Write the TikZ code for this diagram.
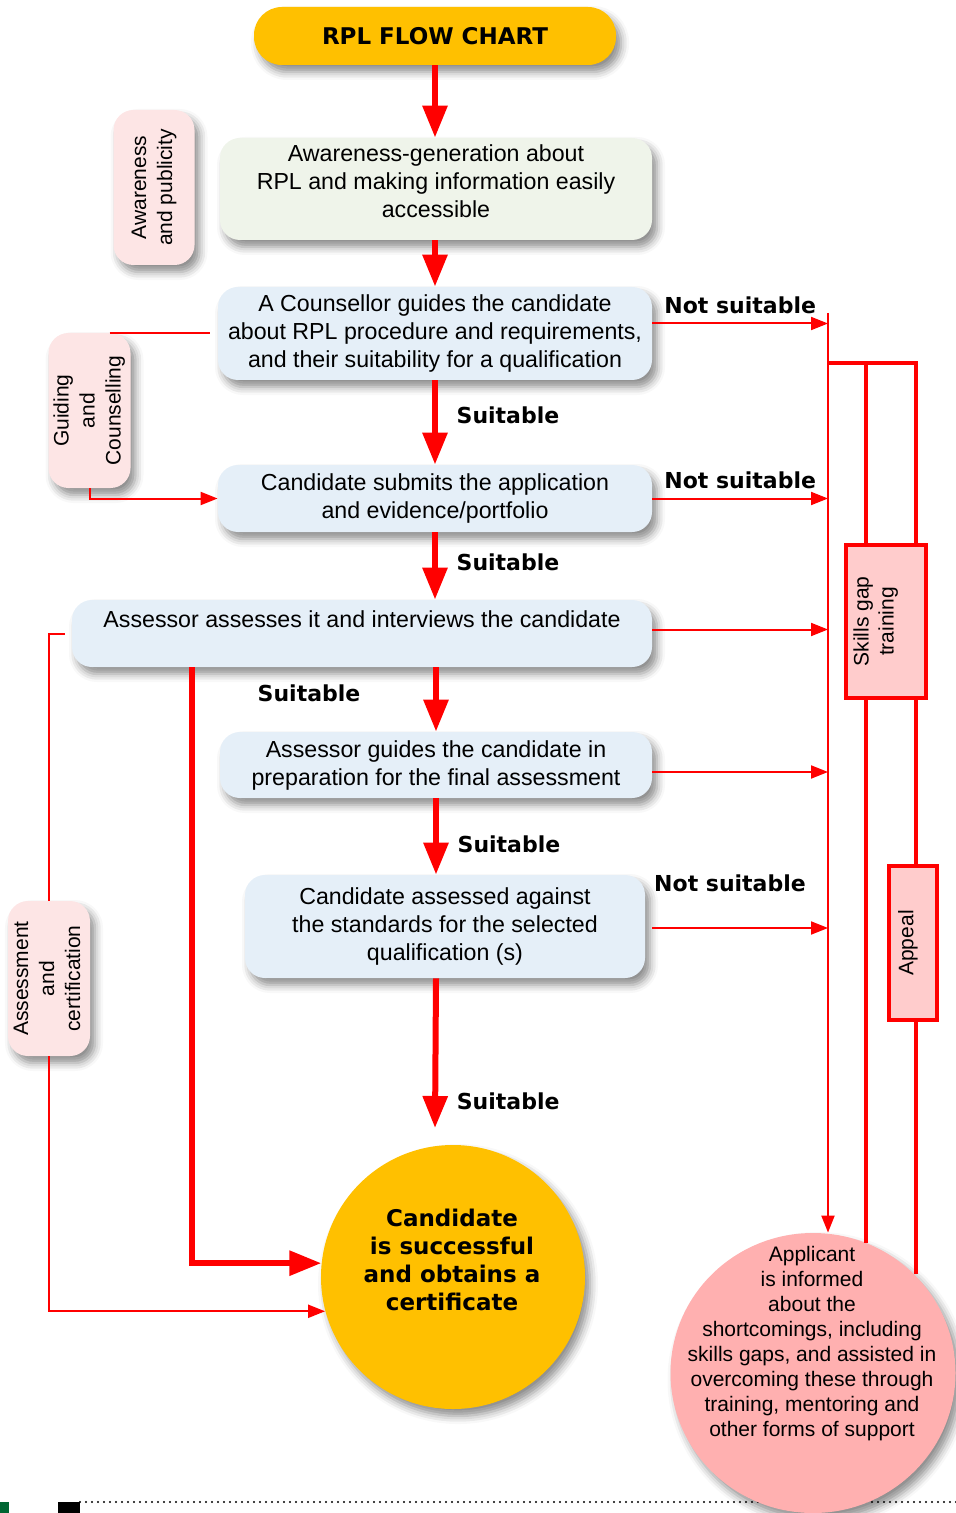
\documentclass[tikz,border=0pt]{standalone}
\usepackage{fontspec}
\usepackage{graphicx}
\setmainfont{Liberation Sans}
\newfontfamily\heavyfont{DejaVu Sans}
\usepackage{tikz}
\usetikzlibrary{shapes.geometric,arrows.meta,positioning,calc,shadows.blur}
\definecolor{rplGold}{RGB}{255,192,0}
\definecolor{rplRed}{RGB}{255,0,0}
\definecolor{rplBlue}{RGB}{229,239,248}
\definecolor{rplGreen}{RGB}{239,244,234}
\definecolor{rplPink}{RGB}{253,229,229}
\definecolor{rplRose}{RGB}{255,204,204}
\definecolor{rplSalmon}{RGB}{255,176,176}
\definecolor{rplDark}{RGB}{0,102,51}

\begin{document}
\begin{tikzpicture}[
    x=0.5pt, y=-0.5pt,
    soft/.style={blur shadow={shadow xshift=2.5pt, shadow yshift=-3.5pt, shadow blur radius=4pt, shadow opacity=45}},
    box/.style={rectangle, rounded corners=10pt, fill=rplBlue, align=center, inner sep=2pt, soft,
                font=\fontsize{11.6}{14}\selectfont},
    side/.style={rectangle, rounded corners=10pt, fill=rplPink, minimum width=40.5pt, minimum height=77.5pt,
                 inner sep=1pt, soft, font=\fontsize{10.5}{13}\selectfont},
    redbox/.style={rectangle, draw=rplRed, line width=2pt, fill=rplRose, inner sep=1pt,
                   font=\fontsize{10.5}{12.5}\selectfont},
    tag/.style={text=black, font=\heavyfont\bfseries\fontsize{11}{13}\selectfont},
    bigarrow/.style={-{Triangle[length=16pt,width=12pt]}, line width=3pt, rplRed},
    thinarrow/.style={-{Triangle[length=8.5pt,width=6.5pt]}, line width=1pt, rplRed},
    redthin/.style={line width=1pt, rplRed},
    redthick/.style={line width=2pt, rplRed}
]
    \useasboundingbox (0,0) rectangle (956,1513);

    % main column
    \node[box, fill=rplGold, rounded corners=14pt, minimum width=181pt, minimum height=29pt,
          font=\heavyfont\bfseries\fontsize{11.5}{14}\selectfont] (title) at (435,36) {RPL FLOW CHART};
    \node[box, fill=rplGreen, minimum width=216pt, minimum height=51pt] (aware) at (436,189)
        {Awareness-generation about\\RPL and making information easily\\accessible\\[-6pt]\mbox{}};
    \node[box, minimum width=217pt, minimum height=46.5pt] (counsel) at (435,333.5)
        {A Counsellor guides the candidate\\about RPL procedure and requirements,\\and their suitability for a qualification};
    \node[box, minimum width=217pt, minimum height=33.5pt] (submit) at (435,498.5)
        {Candidate submits the application\\and evidence/portfolio};
    \node[box, minimum width=290pt, minimum height=33.5pt] (interview) at (362,633.5)
        {Assessor assesses it and interviews the candidate\\ \mbox{}};
    \node[box, minimum width=216pt, minimum height=33pt] (prepare) at (436,765)
        {Assessor guides the candidate in\\preparation for the final assessment};
    \node[box, minimum width=200pt, minimum height=51.5pt] (final) at (445,926.5)
        {Candidate assessed against\\the standards for the selected\\qualification (s)};
    \node[circle, fill=rplGold, minimum size=132pt, inner sep=0pt, soft] (success) at (453,1277) {};
    \node[tag, font=\heavyfont\bfseries\fontsize{11.5}{14}\selectfont, align=center] (successtxt) at (452,1260)
        {Candidate\\is successful\\and obtains a\\certificate};

    % side labels
    \node[side] (publicity) at (154,187.5)
        {\rotatebox{90}{\begin{tabular}{@{}c@{}}Awareness\\and publicity\end{tabular}}};
    \node[side] (guide) at (89.5,410.5)
        {\rotatebox{90}{\begin{tabular}{@{}c@{}}Guiding\\and\\Counselling\end{tabular}}};
    \node[side] (assess) at (49,978.5)
        {\rotatebox{90}{\begin{tabular}{@{}c@{}}Assessment\\and\\certification\end{tabular}}};

    % right hand loop
    \node[redbox, minimum width=40pt, minimum height=76.5pt] (skills) at (886,621.5)
        {\rotatebox{90}{\begin{tabular}{@{}c@{}}Skills gap\\training\end{tabular}}\hspace*{10pt}};
    \node[redbox, minimum width=24pt, minimum height=77pt] (appeal) at (913,943)
        {\rotatebox{90}{Appeal}\hspace*{5pt}};

    \draw[line width=1.2pt, dash pattern=on 0pt off 3pt, line cap=round] (80,1502) -- (956,1502);
    \fill[black] (58,1502) rectangle (80,1513);
    \fill[rplDark] (0,1502) rectangle (9,1513);

    \node[ellipse, fill=rplSalmon, minimum width=142.5pt, minimum height=140pt, inner sep=0pt, soft] (applicant) at (813,1373) {};
    \node[align=center, font=\fontsize{10.5}{12.5}\selectfont] (applicanttxt) at (812,1344)
        {Applicant\\is informed\\about the\\shortcomings, including\\skills gaps, and assisted in\\overcoming these through\\training, mentoring and\\other forms of support};

    \coordinate (vtop) at (828,313);
    \coordinate (loopL) at (866,363);
    \coordinate (loopR) at (916,363);
    \coordinate (sucin) at (435,1128);

    % suitable path
    \draw[bigarrow] (title) -- (aware.north -| title);
    \draw[bigarrow] (aware.south -| title) -- (counsel);
    \draw[bigarrow] (counsel) -- node[tag, right=6pt, pos=0.41] {Suitable} (submit);
    \draw[bigarrow] (submit) -- node[tag, right=6pt, pos=0.44] {Suitable} (interview.north -| submit);
    \draw[bigarrow] (interview.south -| prepare) -- node[tag, left=33pt, pos=0.4] {Suitable} (prepare);
    \draw[bigarrow] (prepare) -- node[tag, right=6pt, pos=0.6] {Suitable} (final.north -| prepare);
    \draw[bigarrow] (final.south -| prepare) -- node[tag, right=6pt, pos=0.82] {Suitable} (sucin);
    \draw[bigarrow] ([xshift=-85pt]interview.south) |- (success.174);

    % not suitable path
    \draw[thinarrow] (vtop) -- (vtop |- applicant.north);
    \draw[thinarrow] ([yshift=5pt]counsel.east) -- node[tag, above=1pt] {Not suitable} ([yshift=5pt]counsel.east -| vtop);
    \draw[thinarrow] (submit.east) -- node[tag, above=1pt] {Not suitable} (submit.east -| vtop);
    \draw[thinarrow] ([yshift=2pt]interview.east) -- ([yshift=2pt]interview.east -| vtop);
    \draw[thinarrow] ([yshift=-3.5pt]prepare.east) -- ([yshift=-3.5pt]prepare.east -| vtop);
    \draw[thinarrow] ([xshift=3.5pt,yshift=-0.75pt]final.east) -- ([yshift=-0.75pt]final.east -| vtop);
    \node[tag] (nsfinal) at (730,883) {Not suitable};

    \draw[redthick] (vtop |- loopL) -- (loopR) -- (loopR |- skills.north);
    \draw[redthick] (loopL) -- (loopL |- skills.north);
    \draw[redthick] (loopL |- skills.south) -- (loopL |- applicant.68);
    \draw[redthick] (loopR |- skills.south) -- (loopR |- appeal.north);
    \draw[redthick] (loopR |- appeal.south) -- (loopR |- applicant.north east);

    % side connectors
    \draw[redthin] ([xshift=10pt]guide.north) -- ([xshift=-4pt]guide.north -| counsel.west);
    \draw[thinarrow] (guide.south) |- (submit.west);
    \draw[redthin] ([xshift=-3.5pt]interview.west) -| (assess.north);
    \draw[thinarrow] (assess.south) |- (success.195);
\end{tikzpicture}
\end{document}
